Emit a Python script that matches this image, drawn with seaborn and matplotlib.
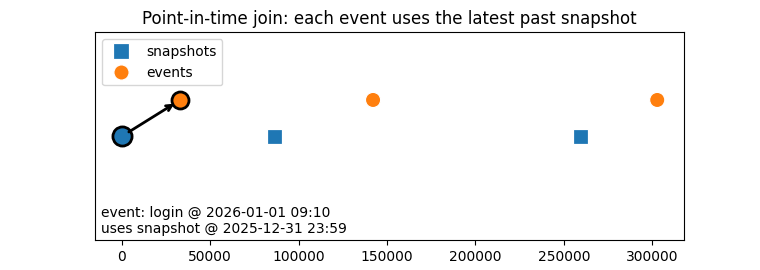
import matplotlib
matplotlib.use("Agg")
import matplotlib.pyplot as plt
import seaborn as sns
import pandas as pd

# Data (seconds since first snapshot 2025-12-31 23:59)
snapshot_t = [0, 86400, 259200]
event_t = [33060, 142100, 302800]
snapshot_label = "snapshots"
event_label = "events"
lane_snapshot = 0.0
lane_event = 0.35
highlight_event_idx = 0
highlight_snapshot_idx = 0
annotation = "event: login @ 2026-01-01 09:10\nuses snapshot @ 2025-12-31 23:59"
title = "Point-in-time join: each event uses the latest past snapshot"

df = pd.DataFrame({
    "t": snapshot_t + event_t,
    "lane": [lane_snapshot] * len(snapshot_t) + [lane_event] * len(event_t),
    "kind": [snapshot_label] * len(snapshot_t) + [event_label] * len(event_t),
})

fig, ax = plt.subplots(figsize=(7.6, 2.7), dpi=100)
sns.scatterplot(data=df, x="t", y="lane", hue="kind", style="kind",
                markers={snapshot_label: "s", event_label: "o"},
                palette={snapshot_label: "#1f77b4", event_label: "#ff7f0e"},
                s=120, ax=ax, zorder=3)

ex, ey = event_t[highlight_event_idx], lane_event
sx, sy = snapshot_t[highlight_snapshot_idx], lane_snapshot
ax.scatter([sx], [sy], s=190, facecolors="#1f77b4", edgecolors="black", linewidths=2, zorder=4)
ax.scatter([ex], [ey], s=150, facecolors="#ff7f0e", edgecolors="black", linewidths=2, zorder=4)
ax.annotate("", xy=(ex, ey), xytext=(sx, sy),
            arrowprops=dict(arrowstyle="->", lw=2, color="black", shrinkA=6, shrinkB=5),
            zorder=5)

ax.set_ylim(-1, 1)
ax.set_yticks([])
ax.set_xlabel("")
ax.set_ylabel("")
ax.set_title(title)
ax.text(0.01, 0.02, annotation, transform=ax.transAxes, ha="left", va="bottom", fontsize=10)
ax.legend(loc="upper left")

fig.subplots_adjust(left=0.125, right=0.9, top=0.88, bottom=0.11)
fig.savefig("out.png", dpi=100)
